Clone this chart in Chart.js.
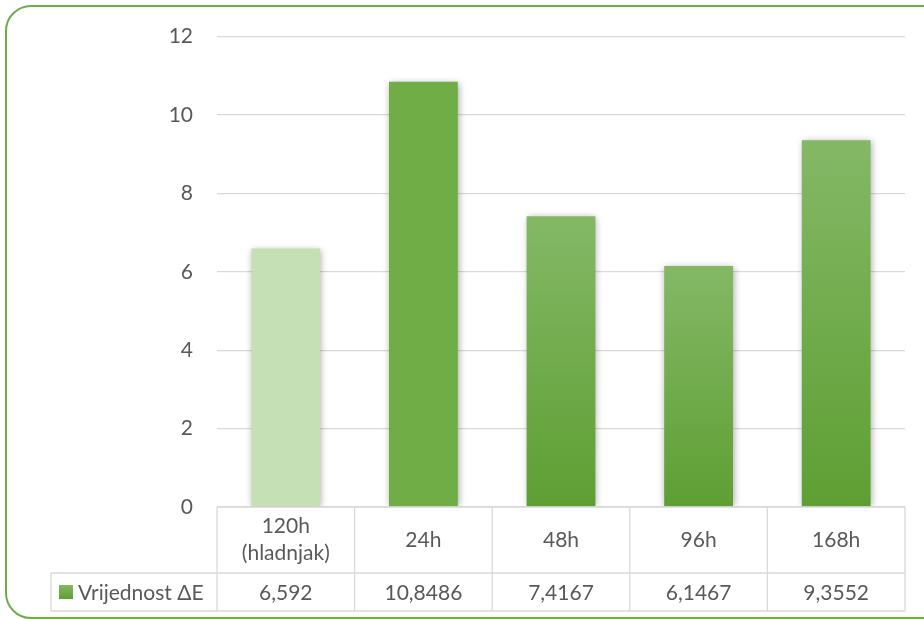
<!DOCTYPE html>
<html>
<head>
<meta charset="utf-8">
<script src="https://cdn.jsdelivr.net/npm/chart.js@4.4.1/dist/chart.umd.min.js"></script>
<style>
  html, body { margin: 0; padding: 0; background: #ffffff; }
  body { width: 924px; height: 619px; position: relative; overflow: hidden; }
  .frame {
    position: absolute; left: 5px; top: 5px; width: 940px; height: 610px;
    border: 2px solid #70ad47; border-radius: 26px;
  }
  #chart { position: absolute; left: 0; top: 0; }
</style>
</head>
<body>
<div class="frame"></div>
<canvas id="chart" width="924" height="619"></canvas>
<script>
// --- data ---
const categories = [['120h', '(hladnjak)'], '24h', '48h', '96h', '168h'];
const values = [6.592, 10.8486, 7.4167, 6.1467, 9.3552];
const valueLabels = ['6,592', '10,8486', '7,4167', '6,1467', '9,3552'];
const yTicks = [0, 2, 4, 6, 8, 10, 12];
const seriesName = 'Vrijednost ΔE';

// --- style ---
const FONT = 'Lato, "Open Sans", sans-serif';
const TEXT = '#595959';
const LINE = '#d9d9d9';
const barStyle = ['light', 'solid', 'grad', 'grad', 'grad'];

function barFill(context) {
  const chart = context.chart;
  const kind = barStyle[context.dataIndex];
  if (kind === 'light') return '#c5e0b4';
  if (kind === 'solid') return '#70ad47';
  const area = chart.chartArea;
  if (!area) return '#70ad47';
  const y = chart.scales.y;
  const top = y.getPixelForValue(values[context.dataIndex]);
  const bottom = y.getPixelForValue(0);
  const g = chart.ctx.createLinearGradient(0, top, 0, bottom);
  g.addColorStop(0, '#84b866');
  g.addColorStop(1, '#5e9f33');
  return g;
}

// schaduw onder de staven
const barShadow = {
  id: 'barShadow',
  beforeDatasetsDraw(chart) {
    const ctx = chart.ctx;
    ctx.save();
    ctx.shadowColor = 'rgba(0,0,0,0.35)';
    ctx.shadowBlur = 7;
    ctx.shadowOffsetX = 1;
    ctx.shadowOffsetY = 1;
  },
  afterDatasetsDraw(chart) {
    chart.ctx.restore();
  }
};

// datatabel onder de grafiek
const dataTable = {
  id: 'dataTable',
  afterDraw(chart) {
    const ctx = chart.ctx;
    const x = chart.scales.x;
    const top = chart.chartArea.bottom;
    const mid = top + 66;
    const bottom = mid + 38;
    const legendLeft = 51;
    const n = categories.length;
    const half = (x.getPixelForValue(1) - x.getPixelForValue(0)) / 2;
    const left = x.getPixelForValue(0) - half;
    const right = x.getPixelForValue(n - 1) + half;

    ctx.save();
    ctx.strokeStyle = LINE;
    ctx.lineWidth = 1.3;
    ctx.beginPath();
    ctx.moveTo(left, top); ctx.lineTo(right, top);
    ctx.moveTo(legendLeft, mid); ctx.lineTo(right, mid);
    ctx.moveTo(legendLeft, bottom); ctx.lineTo(right, bottom);
    ctx.moveTo(legendLeft, mid); ctx.lineTo(legendLeft, bottom);
    for (let i = 0; i <= n; i++) {
      const cx = i < n ? x.getPixelForValue(i) - half : right;
      ctx.moveTo(cx, top); ctx.lineTo(cx, bottom);
    }
    ctx.stroke();

    ctx.fillStyle = TEXT;
    ctx.font = '21px ' + FONT;
    ctx.textAlign = 'center';
    ctx.textBaseline = 'middle';
    categories.forEach((c, i) => {
      const cx = x.getPixelForValue(i);
      if (Array.isArray(c)) {
        ctx.fillText(c[0], cx, top + 19);
        ctx.fillText(c[1], cx, top + 46);
      } else {
        ctx.fillText(c, cx, top + 33);
      }
      ctx.fillText(valueLabels[i], cx, mid + 20);
    });

    // legenda-sleutel
    const g = ctx.createLinearGradient(0, mid + 12, 0, mid + 26);
    g.addColorStop(0, '#84b866');
    g.addColorStop(1, '#5e9f33');
    ctx.fillStyle = g;
    ctx.fillRect(59, mid + 12, 14, 14);
    ctx.fillStyle = TEXT;
    ctx.textAlign = 'left';
    ctx.fillText(seriesName, 78, mid + 20);
    ctx.restore();
  }
};

new Chart(document.getElementById('chart'), {
  type: 'bar',
  data: {
    labels: categories.map(c => Array.isArray(c) ? c.join(' ') : c),
    datasets: [{
      label: seriesName,
      data: values,
      backgroundColor: barFill,
      borderWidth: 0,
      categoryPercentage: 1,
      barPercentage: 0.5
    }]
  },
  options: {
    responsive: false,
    animation: false,
    devicePixelRatio: 1,
    layout: { padding: { top: 35, right: 19, bottom: 112, left: 0 } },
    plugins: {
      legend: { display: false },
      tooltip: { enabled: false }
    },
    scales: {
      x: { display: false },
      y: {
        min: yTicks[0],
        max: yTicks[yTicks.length - 1],
        afterFit(scale) { scale.width = 217; },
        afterBuildTicks(scale) { scale.ticks = yTicks.map(v => ({ value: v })); },
        border: { display: false },
        grid: { color: LINE, lineWidth: 1.3, drawTicks: false },
        ticks: { color: TEXT, padding: 24, font: { family: FONT, size: 21 } }
      }
    }
  },
  plugins: [barShadow, dataTable]
});
</script>
</body>
</html>
